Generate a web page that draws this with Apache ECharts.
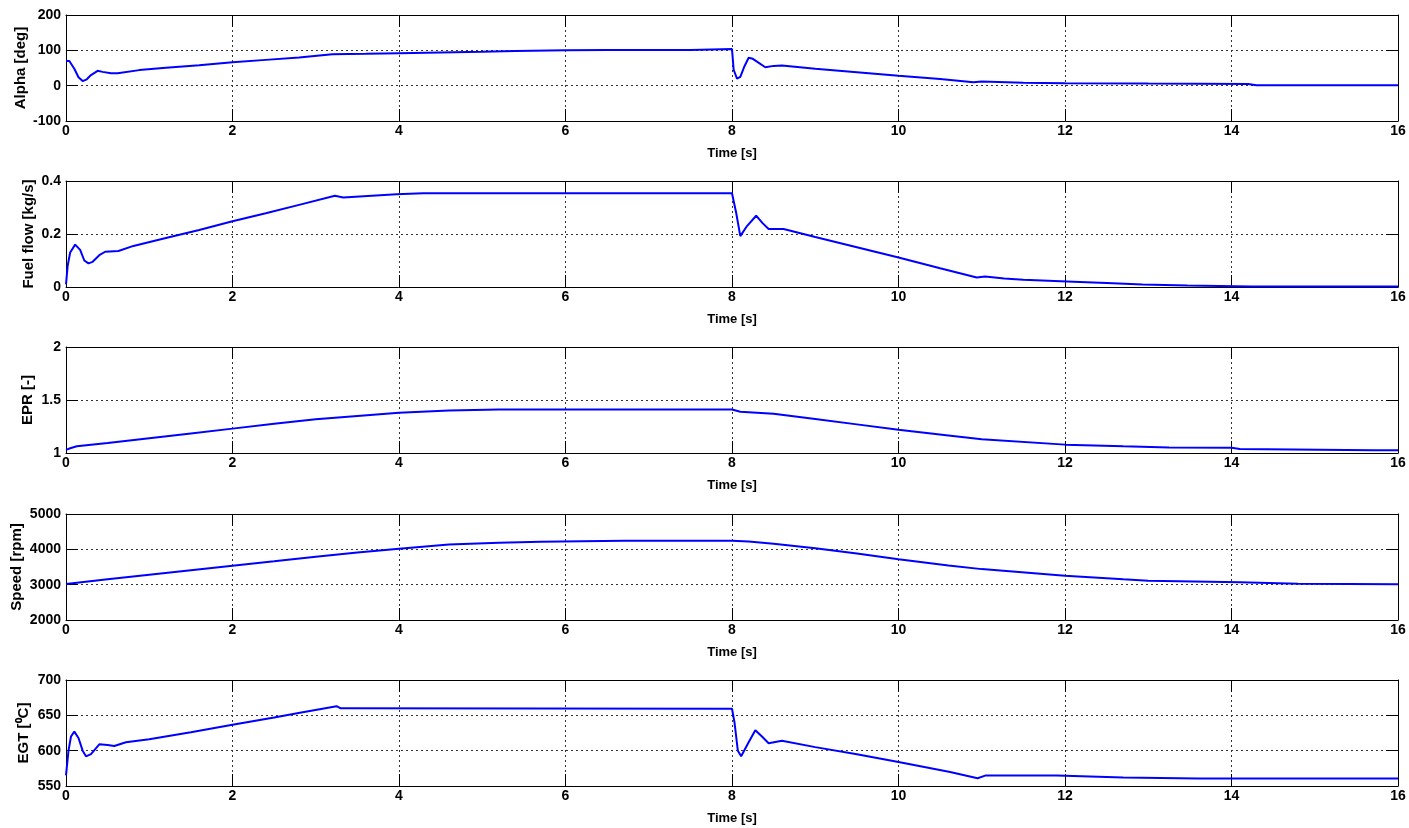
<!DOCTYPE html>
<html>
<head>
<meta charset="utf-8">
<script src="https://cdn.jsdelivr.net/npm/echarts@6/dist/echarts.min.js"></script>
<style>
html,body{margin:0;padding:0;background:#fff;}
#chart{width:1409px;height:828px;}
</style>
</head>
<body>
<div id="chart"></div>
<script>
// ---- Data ----
const xTicks = [0, 2, 4, 6, 8, 10, 12, 14, 16];

const alphaT = [0, 0.04, 0.1, 0.15, 0.2, 0.25, 0.3, 0.38, 0.44, 0.54, 0.62, 0.88, 1.2, 1.6, 2.0, 2.4, 2.8, 3.2, 3.6, 4.0, 4.5, 5.0, 5.4, 6.0, 6.5, 7.0, 7.5, 7.52, 8.0, 8.02, 8.06, 8.1, 8.15, 8.2, 8.25, 8.3, 8.4, 8.5, 8.6, 9.0, 9.5, 10.0, 10.5, 10.9, 11.0, 11.5, 12.0, 13.0, 14.2, 14.3, 16];
const alphaV = [70, 70, 48, 24, 13, 18, 30, 42, 39, 35, 35, 44, 51, 58, 66, 73, 80, 89, 90, 92, 94, 96, 98, 100, 101, 101, 101, 103.5, 103.5, 45, 20, 25, 55, 79, 76, 68, 52, 56, 57, 48, 38, 28, 19, 10, 12, 8, 7, 6, 5, 1, 1];

const fuelT = [0, 0.02, 0.05, 0.11, 0.17, 0.22, 0.27, 0.32, 0.4, 0.47, 0.63, 0.81, 1.2, 1.6, 2.0, 2.4, 2.8, 3.23, 3.33, 3.97, 4.29, 8.0, 8.05, 8.1, 8.18, 8.29, 8.37, 8.44, 8.62, 9.0, 9.5, 10.0, 10.5, 10.94, 11.04, 11.27, 11.5, 12.1, 12.5, 12.93, 13.47, 14.24, 16];
const fuelV = [0.01, 0.08, 0.13, 0.16, 0.14, 0.10, 0.089, 0.095, 0.12, 0.133, 0.136, 0.155, 0.185, 0.215, 0.248, 0.278, 0.31, 0.344, 0.338, 0.35, 0.354, 0.354, 0.28, 0.192, 0.23, 0.269, 0.24, 0.219, 0.219, 0.189, 0.15, 0.111, 0.071, 0.036, 0.04, 0.032, 0.027, 0.02, 0.015, 0.009, 0.006, 0.002, 0.002];

const eprT = [0, 0.05, 0.13, 0.5, 1.0, 1.5, 2.0, 2.5, 3.0, 3.5, 4.0, 4.6, 5.2, 6.0, 8.0, 8.1, 8.5, 9.0, 9.5, 10.0, 10.6, 11.0, 12.0, 12.7, 13.25, 14.0, 14.1, 15.7, 16];
const eprV = [1.03, 1.045, 1.063, 1.095, 1.14, 1.185, 1.23, 1.275, 1.318, 1.35, 1.38, 1.40, 1.41, 1.41, 1.41, 1.39, 1.37, 1.32, 1.27, 1.22, 1.166, 1.13, 1.079, 1.064, 1.053, 1.049, 1.038, 1.026, 1.026];

const speedT = [0, 0.5, 1.0, 1.5, 2.0, 2.5, 3.0, 3.5, 4.0, 4.6, 5.2, 5.7, 6.7, 8.0, 8.2, 8.5, 9.0, 9.5, 10.0, 10.6, 11.0, 12.0, 12.7, 13.0, 14.1, 14.8, 16];
const speedV = [3019, 3150, 3280, 3410, 3537, 3660, 3790, 3910, 4019, 4139, 4185, 4213, 4241, 4241, 4220, 4160, 4030, 3880, 3720, 3545, 3440, 3250, 3150, 3114, 3068, 3023, 3011];

const egtT = [0, 0.03, 0.06, 0.1, 0.15, 0.2, 0.24, 0.3, 0.4, 0.5, 0.58, 0.72, 1.0, 1.5, 2.0, 2.5, 2.81, 3.25, 3.3, 8.0, 8.03, 8.07, 8.11, 8.2, 8.28, 8.36, 8.44, 8.6, 9.0, 9.5, 10.0, 10.62, 10.95, 11.05, 11.9, 12.7, 13.6, 16];
const egtV = [565, 600, 620, 627, 618, 600, 592, 595, 609, 608, 606.5, 612, 616, 626, 636.6, 647, 653.7, 663, 660, 659.3, 640, 600, 592, 612, 629, 620, 610.6, 614, 605, 595, 584, 569.8, 561, 565, 565, 562, 560.5, 560.5];

const yNames = ['Alpha [deg]', 'Fuel flow [kg/s]', 'EPR [-]', 'Speed [rpm]', 'EGT [\u2070C]'];
const yMins = [-100, 0, 1, 2000, 550];
const yMaxs = [200, 0.4, 2, 5000, 700];
const yIntervals = [100, 0.2, 0.5, 1000, 50];
const xName = 'Time [s]';

// ---- Build chart ----
const seriesT = [alphaT, fuelT, eprT, speedT, egtT];
const seriesV = [alphaV, fuelV, eprV, speedV, egtV];
const gridTops = [15, 181, 347, 514, 680];
const gridH = 106;
const nameGaps = [38, 30, 31, 42, 35];
const FONT = '"Liberation Sans", Arial, sans-serif';

const grids = [], xAxes = [], yAxes = [], series = [];
const gridLine = {show: true, lineStyle: {color: '#333', width: 1, type: [2, 3]}};
const axisLine = {show: true, onZero: false, lineStyle: {color: '#000', width: 1}};
const tick = {show: true, inside: true, length: 12, lineStyle: {color: '#000', width: 1}};

for (let i = 0; i < 5; i++) {
  grids.push({left: 66, right: 11, top: gridTops[i], height: gridH, containLabel: false, outerBoundsMode: 'none'});
  xAxes.push({
    type: 'value', gridIndex: i, min: xTicks[0], max: xTicks[xTicks.length - 1], interval: xTicks[1] - xTicks[0],
    position: 'bottom', name: xName, nameLocation: 'middle', nameGap: 26,
    nameTextStyle: {color: '#000', fontFamily: FONT, fontWeight: 'bold', fontSize: 13},
    axisLine: axisLine, axisTick: tick, splitLine: gridLine,
    axisLabel: {color: '#000', fontFamily: FONT, fontWeight: 'bold', fontSize: 14, margin: 3}
  });
  xAxes.push({
    type: 'value', gridIndex: i, min: xTicks[0], max: xTicks[xTicks.length - 1], interval: xTicks[1] - xTicks[0],
    position: 'top', axisLine: axisLine, axisTick: tick, splitLine: {show: false}, axisLabel: {show: false}
  });
  yAxes.push({
    type: 'value', gridIndex: i, min: yMins[i], max: yMaxs[i], interval: yIntervals[i],
    position: 'left', name: yNames[i], nameLocation: 'middle', nameGap: nameGaps[i], nameMoveOverlap: false,
    nameTextStyle: {color: '#000', fontFamily: FONT, fontWeight: 'bold', fontSize: 15},
    axisLine: axisLine, axisTick: tick, splitLine: gridLine,
    axisLabel: {color: '#000', fontFamily: FONT, fontWeight: 'bold', fontSize: 14, margin: 5,
      formatter: v => String(+v.toFixed(2))}
  });
  yAxes.push({
    type: 'value', gridIndex: i, min: yMins[i], max: yMaxs[i], interval: yIntervals[i],
    position: 'right', axisLine: axisLine, axisTick: tick, splitLine: {show: false}, axisLabel: {show: false}
  });
  series.push({
    type: 'line', xAxisIndex: 2 * i, yAxisIndex: 2 * i, showSymbol: false, symbol: 'none',
    lineStyle: {color: '#0000ff', width: 2}, animation: false,
    data: seriesT[i].map((t, k) => [t, seriesV[i][k]])
  });
}

const chart = echarts.init(document.getElementById('chart'), null, {renderer: 'canvas'});
chart.setOption({
  backgroundColor: '#fff',
  animation: false,
  grid: grids, xAxis: xAxes, yAxis: yAxes, series: series
});
</script>
</body>
</html>
